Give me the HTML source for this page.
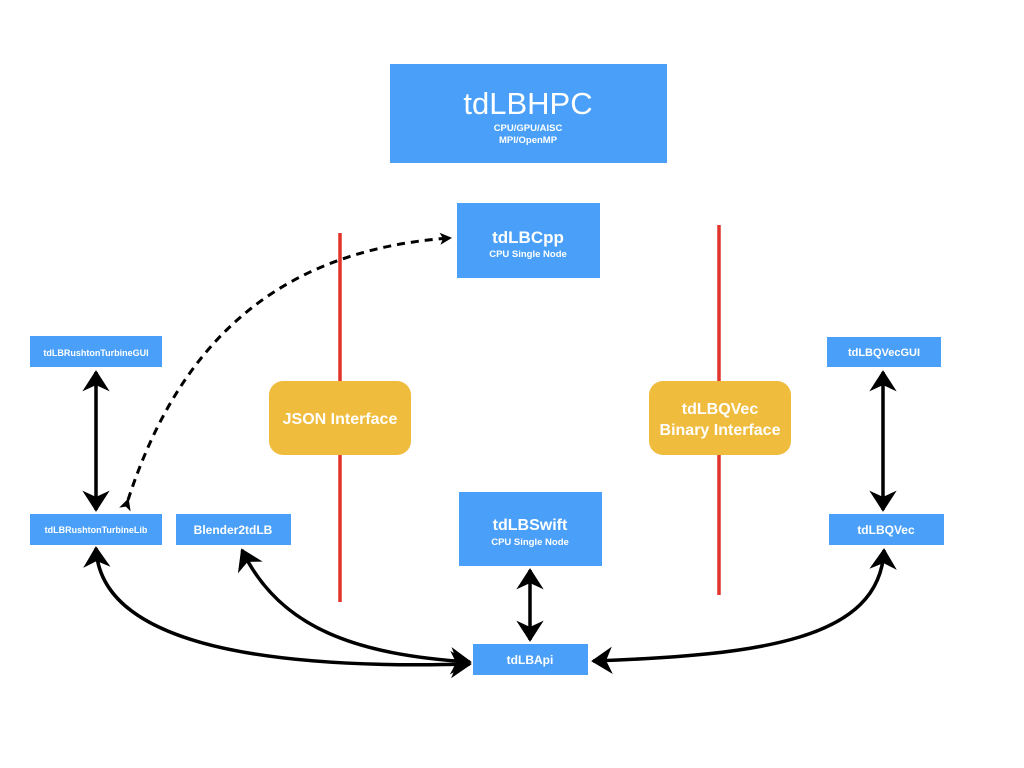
<!DOCTYPE html>
<html><head><meta charset="utf-8"><style>
body{margin:0;background:#fff;}
svg{display:block;font-family:"Liberation Sans",Arial,sans-serif;}
</style></head><body>
<svg width="1024" height="768" viewBox="0 0 1024 768">
<defs>
<marker id="a" markerWidth="12" markerHeight="12" refX="10" refY="6" orient="auto-start-reverse" markerUnits="userSpaceOnUse" viewBox="0 0 12 12" style="overflow:visible">
<path d="M-7,-5 L10,6 L-7,17 L-2,6 Z" fill="#000" stroke="#000" stroke-width="2"/>
</marker>
<marker id="d" markerWidth="12" markerHeight="12" refX="10" refY="6" orient="auto" markerUnits="userSpaceOnUse" viewBox="0 0 12 12" style="overflow:visible">
<path d="M0,0 L12,6 L0,12 L3,6 Z" fill="#000"/>
</marker>
</defs>
<line x1="340" y1="233" x2="340" y2="602" stroke="#e0342a" stroke-width="3.5"/>
<line x1="719" y1="225" x2="719" y2="595" stroke="#e0342a" stroke-width="3.5"/>

<rect x="390" y="64" width="277" height="99" fill="#4aa0f8"/>
<text x="528" y="114" fill="#fff" font-size="31" text-anchor="middle">tdLBHPC</text>
<text x="528" y="131" fill="#fff" font-size="9.5" font-weight="bold" text-anchor="middle">CPU/GPU/AISC</text>
<text x="528" y="143" fill="#fff" font-size="9.5" font-weight="bold" text-anchor="middle">MPI/OpenMP</text>

<rect x="457" y="203" width="143" height="75" fill="#4aa0f8"/>
<text x="528" y="243" fill="#fff" font-size="17" font-weight="bold" text-anchor="middle">tdLBCpp</text>
<text x="528" y="257" fill="#fff" font-size="9.5" font-weight="bold" text-anchor="middle">CPU Single Node</text>

<rect x="30" y="336" width="132" height="31" fill="#4aa0f8"/>
<text x="96" y="356" fill="#fff" font-size="9" font-weight="bold" text-anchor="middle">tdLBRushtonTurbineGUI</text>
<rect x="30" y="514" width="132" height="31" fill="#4aa0f8"/>
<text x="96" y="533" fill="#fff" font-size="9" font-weight="bold" text-anchor="middle">tdLBRushtonTurbineLib</text>
<rect x="176" y="514" width="115" height="31" fill="#4aa0f8"/>
<text x="233" y="534" fill="#fff" font-size="12" font-weight="bold" text-anchor="middle">Blender2tdLB</text>

<rect x="269" y="381" width="142" height="74" rx="14" fill="#efbc3e"/>
<text x="340" y="424" fill="#fff" font-size="16" font-weight="bold" text-anchor="middle">JSON Interface</text>
<rect x="649" y="381" width="142" height="74" rx="14" fill="#efbc3e"/>
<text x="720" y="414" fill="#fff" font-size="16" font-weight="bold" text-anchor="middle">tdLBQVec</text>
<text x="720" y="435" fill="#fff" font-size="16" font-weight="bold" text-anchor="middle">Binary Interface</text>

<rect x="459" y="492" width="143" height="74" fill="#4aa0f8"/>
<text x="530" y="530" fill="#fff" font-size="16" font-weight="bold" text-anchor="middle">tdLBSwift</text>
<text x="530" y="545" fill="#fff" font-size="9.5" font-weight="bold" text-anchor="middle">CPU Single Node</text>
<rect x="473" y="644" width="115" height="31" fill="#4aa0f8"/>
<text x="530" y="664" fill="#fff" font-size="12" font-weight="bold" text-anchor="middle">tdLBApi</text>

<rect x="827" y="337" width="114" height="30" fill="#4aa0f8"/>
<text x="884" y="356" fill="#fff" font-size="11" font-weight="bold" text-anchor="middle">tdLBQVecGUI</text>
<rect x="829" y="514" width="115" height="31" fill="#4aa0f8"/>
<text x="886" y="534" fill="#fff" font-size="12" font-weight="bold" text-anchor="middle">tdLBQVec</text>

<g fill="none" stroke="#000" stroke-width="3.5">
<line x1="96" y1="372" x2="96" y2="510" marker-start="url(#a)" marker-end="url(#a)"/>
<line x1="883" y1="372" x2="883" y2="510" marker-start="url(#a)" marker-end="url(#a)"/>
<line x1="530" y1="570" x2="530" y2="640" marker-start="url(#a)" marker-end="url(#a)"/>
<path d="M96,548 C100,640 250,670 470,664" marker-start="url(#a)" marker-end="url(#a)"/>
<path d="M242,550 C280,630 360,655 470,662" marker-start="url(#a)" marker-end="url(#a)"/>
<path d="M593,661 C760,655 880,640 884,550" marker-start="url(#a)" marker-end="url(#a)"/>
</g>
<path d="M128,500 C180,340 280,250 450,238" fill="none" stroke="#000" stroke-width="3" stroke-dasharray="8,6" marker-start="url(#d)" marker-end="url(#d)"/>
</svg>
</body></html>
